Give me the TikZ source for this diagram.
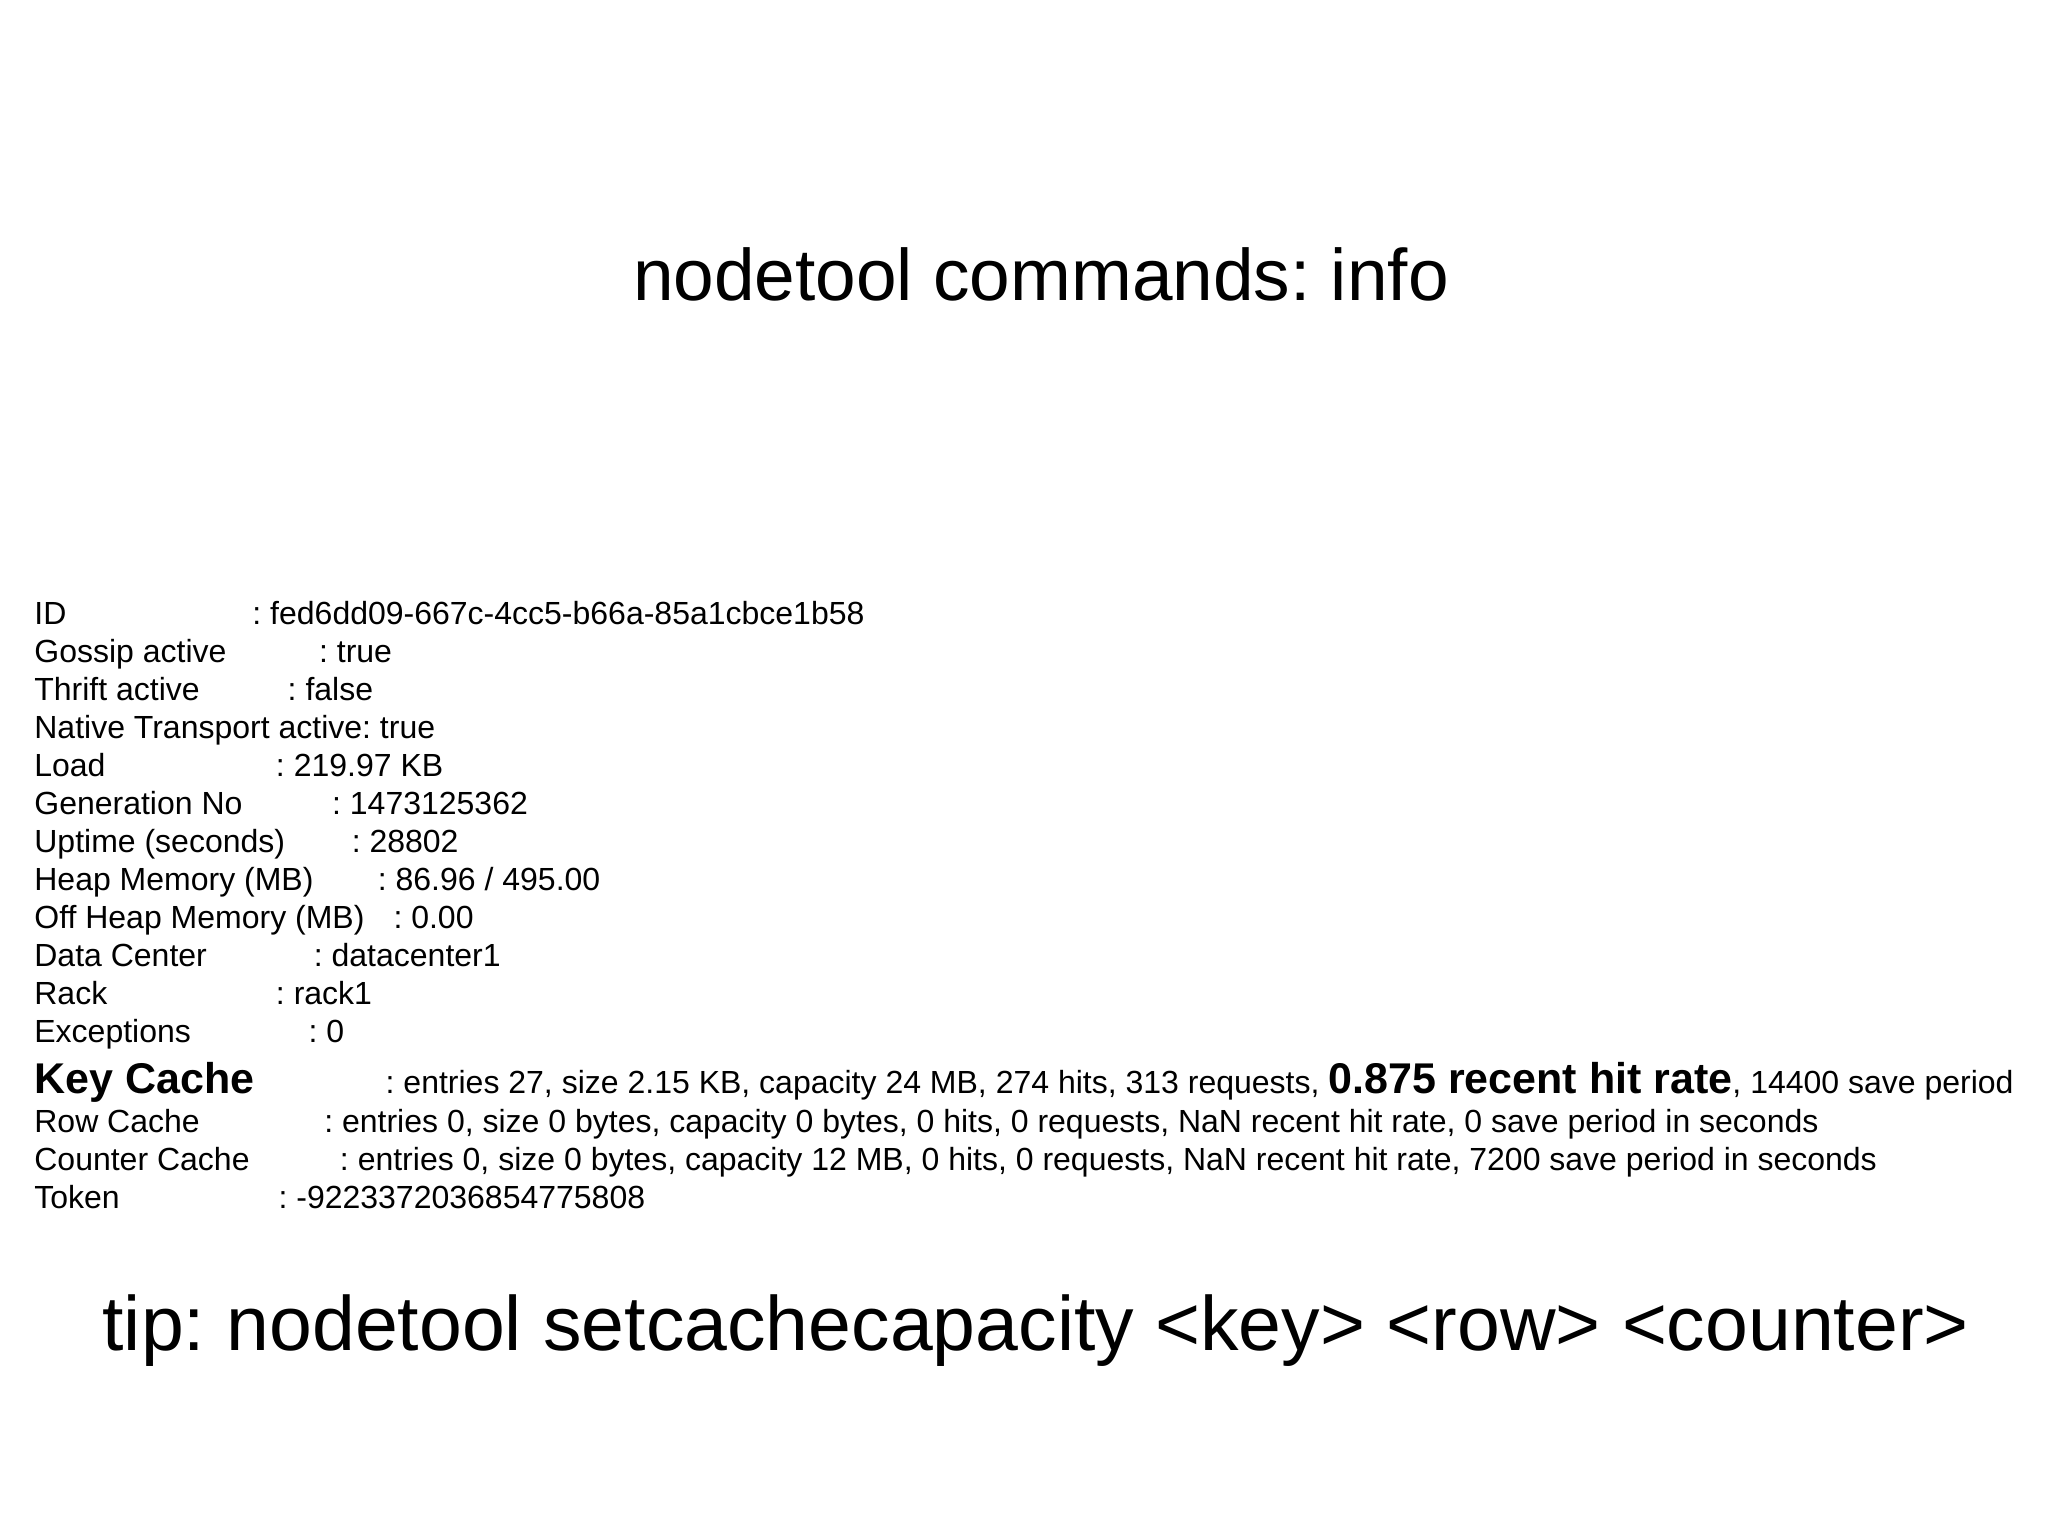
\documentclass[tikz,border=0pt]{standalone}
\usepackage{fontspec}
\setmainfont{Liberation Sans}
\frenchspacing
\begin{document}
\begin{tikzpicture}[x=0.653pt,y=-0.653pt,
  body/.style={anchor=base west,inner sep=0pt,font=\fontsize{16}{18}\selectfont},
  bigb/.style={font=\fontsize{21.5}{24}\selectfont\bfseries},
  big/.style={anchor=base,inner sep=0pt,font=\fontsize{36.5}{40}\selectfont}]
\useasboundingbox[fill=white] (0,0) rectangle (1568,1176);
\node[big] (title) at (797,230) {nodetool commands: info};
\foreach \n/\lab/\cx/\val [count=\i] in {
 id/ID/193/{: fed6dd09-667c-4cc5-b66a-85a1cbce1b58},
 gos/Gossip active/244/{: true},
 thr/Thrift active/220/{: false},
 nat/{Native Transport active: true}/0/{},
 load/Load/211/{: 219.97 KB},
 gen/Generation No/254/{: 1473125362},
 up/Uptime (seconds)/269/{: 28802},
 heap/Heap Memory (MB)/289/{: 86.96 / 495.00},
 off/Off Heap Memory (MB)/301/{: 0.00},
 dc/Data Center/240/{: datacenter1},
 rack/Rack/211/{: rack1},
 exc/Exceptions/236/{: 0}}{
  \node[body] (\n l) at (26,{478+29.1*(\i-1)}) {\lab};
  \ifnum\cx>0 \node[body] (\n v) at (\cx,{478+29.1*(\i-1)}) {\val};\fi
}
\node[body,bigb] (kcl) at (26,837) {Key Cache};
\node[body] (kcv) at (295,837) {: entries 27, size 2.15 KB, capacity 24 MB, 274 hits, 313 requests, {\fontsize{21.5}{24}\selectfont\bfseries 0.875 recent hit rate}, 14400 save period};
\node[body] (rcl) at (26,867) {Row Cache};
\node[body] (rcv) at (248,867) {: entries 0, size 0 bytes, capacity 0 bytes, 0 hits, 0 requests, NaN recent hit rate, 0 save period in seconds};
\node[body] (ccl) at (26,896) {Counter Cache};
\node[body] (ccv) at (260,896) {: entries 0, size 0 bytes, capacity 12 MB, 0 hits, 0 requests, NaN recent hit rate, 7200 save period in seconds};
\node[body] (tkl) at (26,925) {Token};
\node[body] (tkv) at (213,925) {: -9223372036854775808};
\node[big,font=\fontsize{38.5}{42}\selectfont] (tip) at (793,1034) {tip: nodetool setcachecapacity <key> <row> <counter>};
\end{tikzpicture}
\end{document}
